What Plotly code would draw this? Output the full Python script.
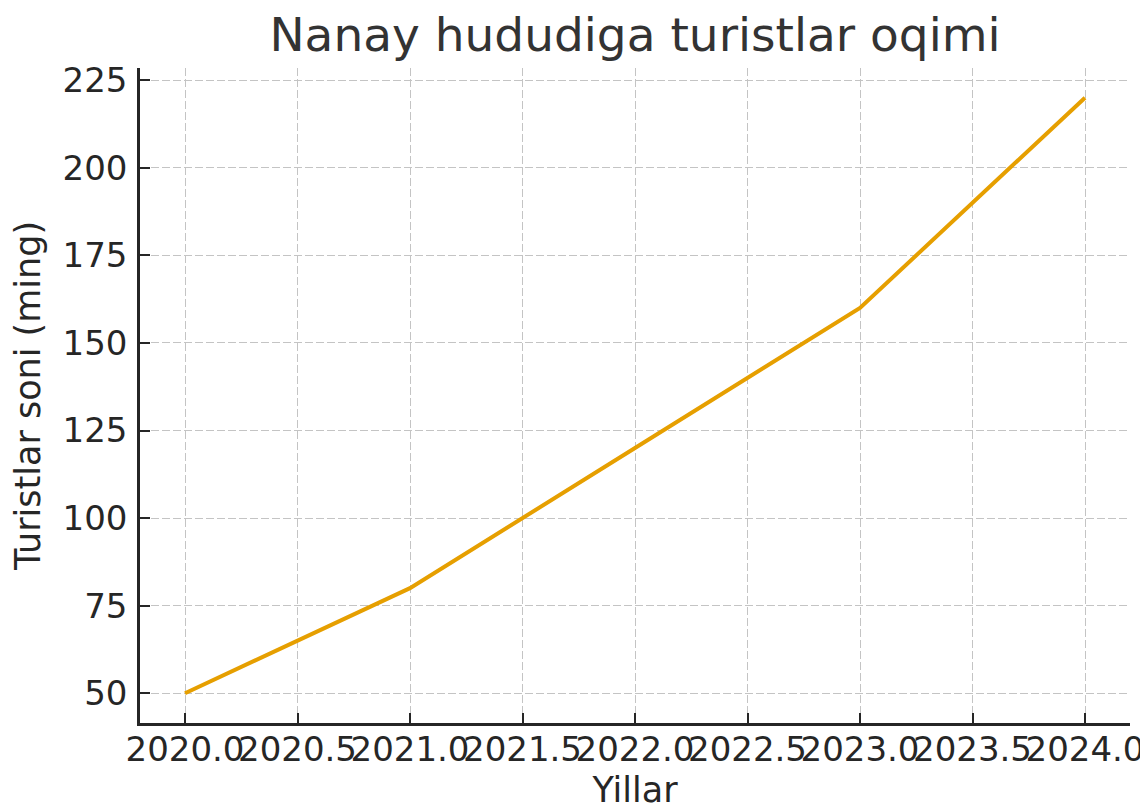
import plotly.graph_objects as go

years = [2020, 2021, 2022, 2023, 2024]
tourists = [50, 80, 120, 160, 220]

x_ticks = [2020.0, 2020.5, 2021.0, 2021.5, 2022.0, 2022.5, 2023.0, 2023.5, 2024.0]
x_ticktext = ["2020.0", "2020.5", "2021.0", "2021.5", "2022.0", "2022.5", "2023.0", "2023.5", "2024.0"]
y_ticks = [50, 75, 100, 125, 150, 175, 200, 225]

title_text = "Nanay hududiga turistlar oqimi"
x_title = "Yillar"
y_title = "Turistlar soni (ming)"

FONT = "DejaVu Sans"
TXT = "#262626"
GRID = "#c4c4c4"
W, H = 1140, 802

fig = go.Figure(go.Scatter(
    x=years, y=tourists, mode="lines",
    line=dict(color="#E69F00", width=4),
    showlegend=False,
))

fig.update_layout(
    width=W, height=H,
    paper_bgcolor="white", plot_bgcolor="white",
    margin=dict(l=132, r=18, t=60, b=87, autoexpand=False),
    font=dict(family=FONT, color=TXT, size=34),
    title=dict(text=title_text, x=0.5, xref="paper", y=1 - 27 / H, yref="container",
               yanchor="middle", xanchor="center",
               font=dict(family=FONT, size=47, color="#333333")),
)

fig.update_xaxes(
    range=[2019.8, 2024.2], tickvals=x_ticks, ticktext=x_ticktext, tickangle=0,
    automargin=True,
    showline=True, linecolor=TXT, linewidth=2.5, mirror=False,
    ticks="inside", ticklen=10, tickwidth=2, tickcolor=TXT,
    showgrid=True, gridcolor=GRID, gridwidth=1.4, griddash="8px,3px",
    zeroline=False, tickfont=dict(size=34, color=TXT), ticklabelstandoff=-6,
    title=dict(text=x_title, font=dict(size=35, color=TXT), standoff=10),
)
fig.update_yaxes(
    range=[41.5, 228.5], tickvals=y_ticks,
    automargin=False,
    showline=True, linecolor=TXT, linewidth=2.5, mirror=False,
    ticks="inside", ticklen=10, tickwidth=2, tickcolor=TXT,
    showgrid=True, gridcolor=GRID, gridwidth=1.4, griddash="8px,3px",
    zeroline=False, tickfont=dict(size=34, color=TXT), ticklabelstandoff=3,
    title=dict(text=y_title, font=dict(size=35, color=TXT), standoff=12),
)

fig.write_html("out.html")
